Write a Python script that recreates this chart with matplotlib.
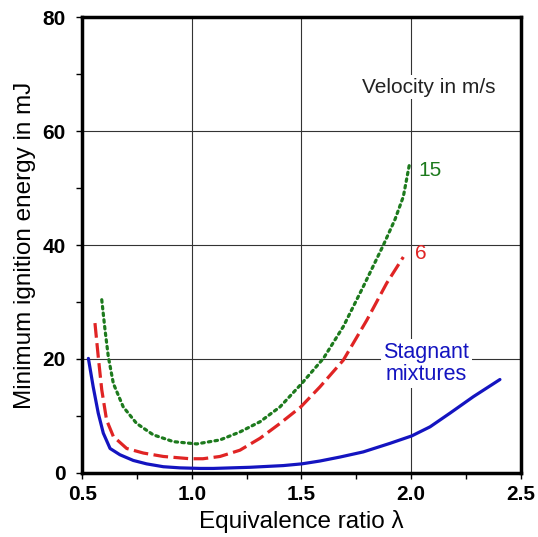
import matplotlib.pyplot as plt
from matplotlib.ticker import MultipleLocator

plt.rcParams['font.family'] = ['Liberation Sans', 'DejaVu Sans']

# stagnant mixtures
lam_0 = [0.527, 0.549, 0.572, 0.595, 0.626, 0.671, 0.732, 0.793, 0.869, 0.945, 1.037, 1.097,
         1.265, 1.417, 1.501, 1.584, 1.676, 1.782, 1.904, 2.003, 2.087, 2.178, 2.285, 2.406]
mie_0 = [20.1, 15.1, 10.5, 7.0, 4.3, 3.2, 2.2, 1.6, 1.1, 0.9, 0.8, 0.8,
         1.0, 1.3, 1.6, 2.1, 2.8, 3.7, 5.2, 6.5, 8.1, 10.5, 13.4, 16.4]

# 6 m/s
lam_6 = [0.557, 0.572, 0.588, 0.61, 0.641, 0.702, 0.778, 0.869, 0.991, 1.05, 1.128, 1.219,
         1.311, 1.402, 1.497, 1.584, 1.691, 1.798, 1.889, 1.965]
mie_6 = [26.3, 20.4, 14.6, 9.3, 6.4, 4.3, 3.5, 2.9, 2.5, 2.5, 2.9, 4.0,
         6.1, 8.7, 11.6, 15.1, 19.8, 26.8, 33.3, 37.9]

# 15 m/s
lam_15 = [0.588, 0.603, 0.618, 0.641, 0.686, 0.747, 0.823, 0.915, 1.021, 1.128, 1.219, 1.311,
          1.402, 1.501, 1.6, 1.691, 1.782, 1.874, 1.927, 1.965, 1.995]
mie_15 = [30.4, 25.1, 20.4, 15.7, 11.6, 8.7, 6.7, 5.5, 5.1, 5.8, 7.2, 9.0,
          11.6, 15.7, 20.1, 25.7, 32.7, 40.0, 44.5, 48.5, 54.6]

fig = plt.figure(figsize=(5.38, 5.37), dpi=100)
ax = fig.add_axes([0.1533, 0.1192, 0.8142, 0.8491])

ax.plot(lam_0, mie_0, color='#1414c0', lw=2.3, solid_capstyle='round', solid_joinstyle='round')
ax.plot(lam_6, mie_6, color='#e02424', lw=2.3, dashes=(4.6, 1.7))
ax.plot(lam_15, mie_15, color='#1d7a1d', lw=2.3, linestyle=(0, (0.8, 1.3)), dash_capstyle='round')

ax.set_xlim(0.5, 2.5)
ax.set_ylim(0, 80)
ax.xaxis.set_minor_locator(MultipleLocator(0.25))
ax.yaxis.set_major_locator(MultipleLocator(20))
ax.yaxis.set_minor_locator(MultipleLocator(10))
ax.set_xticks([0.5, 1.0, 1.5, 2.0, 2.5])
ax.set_xticklabels(['0.5', '1.0', '1.5', '2.0', '2.5'])
ax.grid(True, which='major', color='#333333', lw=0.8)
ax.set_axisbelow(True)
for s in ax.spines.values():
    s.set_linewidth(2.5)
ax.tick_params(which='both', direction='out', width=1, length=4)
ax.tick_params(which='major', labelsize=15)
ax.tick_params(axis='x', which='major', pad=5)
ax.tick_params(axis='y', which='major', pad=8)
for lb in ax.get_xticklabels() + ax.get_yticklabels():
    lb.set_fontweight('bold')

ax.set_xlabel('Equivalence ratio λ', fontsize=17.5, labelpad=4)
ax.set_ylabel('Minimum ignition energy in mJ', fontsize=17.5, labelpad=5)

box = dict(facecolor='white', edgecolor='none', pad=2)
ax.text(2.08, 67.7, 'Velocity in m/s', fontsize=15, ha='center', va='center', color='#222222', bbox=box)
ax.text(2.035, 53.0, '15', fontsize=15, ha='left', va='center', color='#1d7a1d')
ax.text(2.02, 38.5, '6', fontsize=15, ha='left', va='center', color='#e02424')
ax.text(2.07, 19.2, 'Stagnant\nmixtures', fontsize=15.5, ha='center', va='center', color='#1414c0',
        linespacing=1.05, bbox=box)

fig.savefig('out.png', dpi=100)
